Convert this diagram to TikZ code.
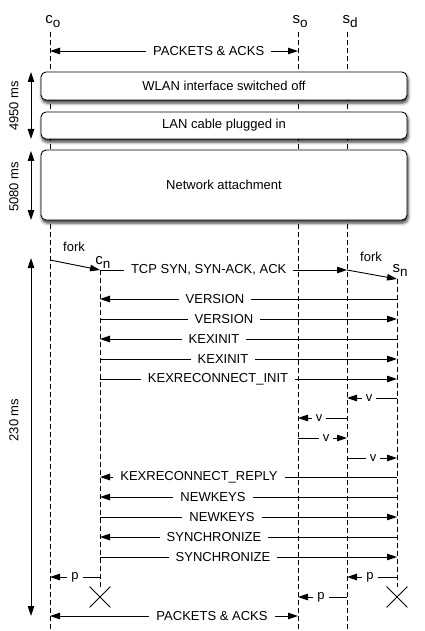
\documentclass[tikz,border=0pt]{standalone}
\usepackage{fontspec}
\setmainfont{Liberation Sans}
\usetikzlibrary{arrows.meta,shapes.misc,shadows.blur}
\newcommand{\lbfont}{\fontsize{13}{15}\selectfont}
\newcommand{\hdfont}{\fontsize{15}{17}\selectfont}
\newcommand{\lsub}[2]{#1\raisebox{-4pt}{\fontsize{13.5}{15}\selectfont #2}}
\begin{document}
\begin{tikzpicture}[x=1pt,y=-1pt,
  tip/.tip={Triangle[length=10pt,width=6.5pt]},
  msg/.style={line width=0.9pt,-tip},
  twoway/.style={line width=0.9pt,tip-tip},
  life/.style={line width=0.8pt,dash pattern=on 5pt off 3pt},
  lbl/.style={fill=white,inner xsep=7pt,inner ysep=1pt,font=\lbfont},
  slbl/.style={fill=white,inner xsep=4pt,inner ysep=1pt,font=\lbfont},
  free/.style={inner sep=1pt,font=\lbfont},
  hdr/.style={inner sep=0pt,font=\hdfont},
  box/.style={draw,line width=0.9pt,fill=white,rounded corners=5pt,font=\lbfont,
    blur shadow={shadow xshift=1pt,shadow yshift=-3pt,shadow blur radius=3pt,shadow opacity=80}},
  xmark/.style={draw,cross out,line width=0.8pt,minimum size=20pt,inner sep=0pt}]
\useasboundingbox (0,0) rectangle (425,631);
% lifeline x positions
\coordinate (co) at (50,0);
\coordinate (cn) at (100,0);
\coordinate (so) at (298,0);
\coordinate (sd) at (347,0);
\coordinate (sn) at (397,0);
% headers
\node[hdr] (lco) at (53,22) {\lsub{c}{o}};
\node[hdr] (lso) at (300,22) {\lsub{s}{o}};
\node[hdr] (lsd) at (350,22) {\lsub{s}{d}};
% lifelines
\draw[life] (co |- 0,32) -- (co |- 0,631);
\draw[life] (so |- 0,32) -- (so |- 0,631);
\draw[life] (sd |- 0,32) -- (sd |- 0,631);
% top packets
\draw[twoway] (co |- 0,51) -- node[lbl,pos=0.64] {PACKETS \& ACKS} (so |- 0,51);
% boxes
\node[box,minimum width=366pt,minimum height=28pt] (wlan) at (224,86) {WLAN interface switched off};
\node[box,minimum width=366pt,minimum height=27pt] (lan) at (224,125.5) {LAN cable plugged in};
\node[box,minimum width=366pt,minimum height=70pt] (net) at (224,185) {Network attachment};
% durations
\coordinate (d1a) at (31,72); \coordinate (d1b) at (31,139);
\draw[twoway] (d1a) -- (d1b);
\node[free,rotate=90] (t1) at (14,106) {4950 ms};
\coordinate (d2a) at (31,151); \coordinate (d2b) at (31,220);
\draw[twoway] (d2a) -- (d2b);
\node[free,rotate=90] (t2) at (14,187) {5080 ms};
\coordinate (d3a) at (31,258); \coordinate (d3b) at (31,616);
\draw[twoway] (d3a) -- (d3b);
\node[free,rotate=90] (t3) at (14,420) {230 ms};
% forks
\node[free] (fork1) at (74,247) {fork};
\node[hdr] (lcn) at (103,262) {\lsub{c}{n}};
\draw[msg] (co |- 0,260) -- (cn |- 0,270);
\draw[msg] (cn |- 0,270) -- node[lbl,pos=0.44] {TCP SYN, SYN-ACK, ACK} (sd |- 0,270);
\node[free] (fork2) at (371,257) {fork};
\node[hdr] (lsn) at (400,270) {\lsub{s}{n}};
\draw[msg] (sd |- 0,270) -- (sn |- 0,279);
% new lifelines and terminations
\node[xmark] (xcn) at (100,597) {};
\node[xmark] (xsn) at (397,597) {};
\draw[life] (cn |- 0,270) -- (xcn.north);
\draw[life] (sn |- 0,279) -- (xsn.north);
% handshake
\draw[msg] (sn |- 0,299) -- (cn |- 0,299) node[lbl] at (215,299) {VERSION};
\draw[msg] (cn |- 0,319) -- (sn |- 0,319) node[lbl] at (224,319) {VERSION};
\draw[msg] (sn |- 0,339) -- (cn |- 0,339) node[lbl] at (214,339) {KEXINIT};
\draw[msg] (cn |- 0,359) -- (sn |- 0,359) node[lbl] at (223,359) {KEXINIT};
\draw[msg] (cn |- 0,379) -- (sn |- 0,379) node[lbl] at (218,379) {KEXRECONNECT\_INIT};
\draw[msg] (sn |- 0,398) -- (sd |- 0,398) node[slbl] at (369,398) {v};
\draw[msg] (sd |- 0,418) -- (so |- 0,418) node[slbl] at (319,418) {v};
\draw[msg] (so |- 0,438) -- (sd |- 0,438) node[slbl] at (326,438) {v};
\draw[msg] (sd |- 0,458) -- (sn |- 0,458) node[slbl] at (373,458) {v};
\draw[msg] (sn |- 0,477) -- (cn |- 0,477) node[lbl] at (199,477) {KEXRECONNECT\_REPLY};
\draw[msg] (sn |- 0,497) -- (cn |- 0,497) node[lbl] at (213,497) {NEWKEYS};
\draw[msg] (cn |- 0,517) -- (sn |- 0,517) node[lbl] at (222,517) {NEWKEYS};
\draw[msg] (sn |- 0,537) -- (cn |- 0,537) node[lbl] at (214,537) {SYNCHRONIZE};
\draw[msg] (cn |- 0,557) -- (sn |- 0,557) node[lbl] at (223,557) {SYNCHRONIZE};
% teardown
\draw[msg] (cn |- 0,577) -- (co |- 0,577) node[slbl] at (75,577) {p};
\draw[msg] (sn |- 0,577) -- (sd |- 0,577) node[slbl] at (370,577) {p};
\draw[msg] (sd |- 0,597) -- (so |- 0,597) node[slbl] at (321,597) {p};
\draw[twoway] (co |- 0,616) -- (so |- 0,616) node[lbl] at (212,616) {PACKETS \& ACKS};
\end{tikzpicture}
\end{document}
